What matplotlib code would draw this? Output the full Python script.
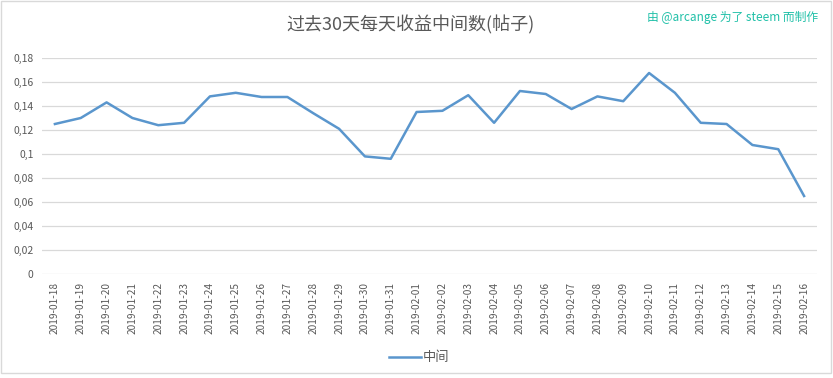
import matplotlib
matplotlib.use("Agg")
import matplotlib.pyplot as plt
from matplotlib.patches import Rectangle

plt.rcParams['font.family'] = ['Noto Sans CJK SC', 'DejaVu Sans']

dates = ["2019-01-18", "2019-01-19", "2019-01-20", "2019-01-21", "2019-01-22",
         "2019-01-23", "2019-01-24", "2019-01-25", "2019-01-26", "2019-01-27",
         "2019-01-28", "2019-01-29", "2019-01-30", "2019-01-31", "2019-02-01",
         "2019-02-02", "2019-02-03", "2019-02-04", "2019-02-05", "2019-02-06",
         "2019-02-07", "2019-02-08", "2019-02-09", "2019-02-10", "2019-02-11",
         "2019-02-12", "2019-02-13", "2019-02-14", "2019-02-15", "2019-02-16"]
median_values = [0.125, 0.130, 0.143, 0.130, 0.124, 0.126, 0.148, 0.151, 0.1475, 0.1475,
                 0.134, 0.121, 0.098, 0.096, 0.135, 0.136, 0.149, 0.126, 0.1525, 0.150,
                 0.1375, 0.148, 0.144, 0.1675, 0.151, 0.126, 0.125, 0.1075, 0.104, 0.065]
y_ticks = [0, 0.02, 0.04, 0.06, 0.08, 0.1, 0.12, 0.14, 0.16, 0.18]
y_tick_labels = ["0", "0,02", "0,04", "0,06", "0,08", "0,1", "0,12", "0,14", "0,16", "0,18"]
series_name = "中间"
title = "过去30天每天收益中间数(帖子)"
credit = "由 @arcange 为了 steem 而制作"

fig = plt.figure(figsize=(8.33, 3.78), dpi=100)
W, H = 833, 378
ax = fig.add_axes([42 / W, 1 - 274 / H, (817 - 42) / W, (274 - 58) / H])

x = list(range(len(dates)))
line, = ax.plot(x, median_values, color="#5A96CD", linewidth=1.8, label=series_name,
                solid_joinstyle="round")

ax.set_xlim(-0.5, len(dates) - 0.5)
ax.set_ylim(0, 0.18)
ax.set_yticks(y_ticks)
ax.set_yticklabels(y_tick_labels, fontsize=7.5, color="#595959")
ax.set_xticks(x)
ax.set_xticklabels(dates, rotation=90, fontsize=7.3, color="#595959")
ax.tick_params(axis="both", length=0, pad=6)
ax.grid(axis="y", color="#d9d9d9", linewidth=0.9)
ax.set_axisbelow(True)
for s in ax.spines.values():
    s.set_visible(False)

fig.text(410 / W, 1 - 25 / H, title, ha="center", va="center", fontsize=13, color="#595959")
fig.text(818 / W, 1 - 17 / H, credit, ha="right", va="center", fontsize=8.5, color="#20C0A8")

fig.legend(handles=[line], labels=[series_name], loc="center", bbox_to_anchor=(419 / W, 1 - 358 / H),
           frameon=False, fontsize=9.5, handlelength=2.4, handletextpad=0.1,
           labelcolor="#595959")

fig.patches.append(Rectangle((1 / W, 1 - 373 / H), 830 / W, 372 / H, transform=fig.transFigure,
                             fill=False, edgecolor="#d9d9d9", linewidth=1))

fig.savefig("out.png", dpi=100)
